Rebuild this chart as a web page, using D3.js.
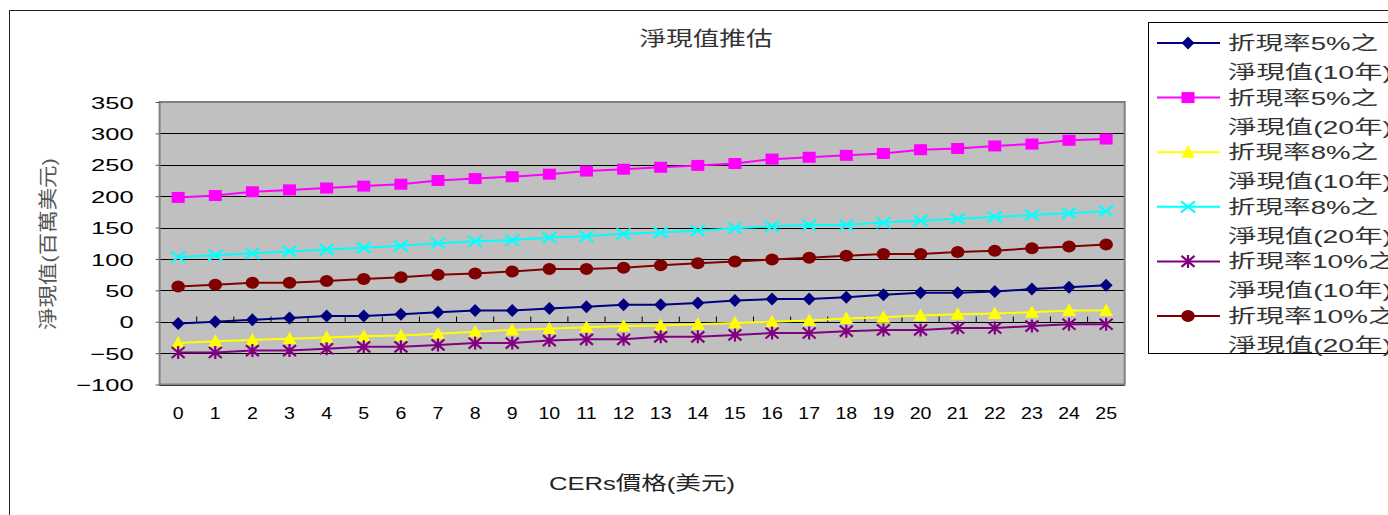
<!DOCTYPE html>
<html><head><meta charset="utf-8">
<script src="https://cdn.jsdelivr.net/npm/d3@7"></script>
<style>
html,body{margin:0;padding:0;background:#fff;}
svg text{font-family:"Liberation Sans","Noto Sans CJK TC",sans-serif;fill:#000;}
</style></head>
<body>
<svg id="chart" width="1388" height="515"></svg>
<script>
const categories = ["0","1","2","3","4","5","6","7","8","9","10","11","12","13","14","15","16","17","18","19","20","21","22","23","24","25"];
const npv5_10  = [-3,0,3,6,9,9,12,15,18,18,21,24,27,27,30,34,36,36,39,43,46,46,48,52,55,58];
const npv5_20  = [198,201,207,210,213,216,219,225,228,231,235,240,243,246,249,252,259,262,265,268,274,276,280,283,289,291];
const npv8_10  = [-34,-31,-29,-27,-25,-23,-22,-19,-16,-13,-11,-9,-7,-6,-4,-2,0,2,5,7,10,12,13,15,18,18];
const npv8_20  = [103,106,109,112,115,118,121,125,128,130,134,136,140,142,145,149,152,154,154,158,161,164,167,170,173,176];
const npv10_10 = [-49,-49,-46,-46,-43,-40,-40,-37,-34,-34,-30,-28,-28,-24,-24,-21,-18,-18,-15,-13,-13,-10,-10,-7,-4,-4];
const npv10_20 = [56,59,62,62,65,68,71,75,77,80,84,84,86,90,93,96,99,102,105,108,108,111,113,117,120,123];
const yTicks = [-100,-50,0,50,100,150,200,250,300,350];
const seriesNames = [["折現率5%之","淨現值(10年)"],["折現率5%之","淨現值(20年)"],["折現率8%之","淨現值(10年)"],["折現率8%之","淨現值(20年)"],["折現率10%之","淨現值(10年)"],["折現率10%之","淨現值(20年)"]];
const chartTitle = "淨現值推估";
const xTitle = "CERs價格(美元)";
const yTitle = "淨現值(百萬美元)";

const seriesData = [npv5_10, npv5_20, npv8_10, npv8_20, npv10_10, npv10_20];
const colors = ["#000080","#FF00FF","#FFFF00","#00FFFF","#800080","#800000"];
const shapes = ["diamond","square","triangle","x","star","circle"];

const svg = d3.select("#chart");
const L = 159.6, R = 1124.7, T = 102, B = 384.5;
const x = d3.scaleBand().domain(categories).range([L, R]).padding(0);
const y = d3.scaleLinear().domain([-100, 350]).range([B, T]);

// outer chart border
svg.append("rect").attr("x",9.5).attr("y",10.5).attr("width",1400).attr("height",520)
  .attr("fill","none").attr("stroke","#222").attr("stroke-width",1);

// title
svg.append("text").attr("x",706).attr("y",46).attr("text-anchor","middle")
  .attr("font-size",20).attr("textLength",133).attr("lengthAdjust","spacingAndGlyphs")
  .style("fill","#333").text(chartTitle);

// plot area
svg.append("rect").attr("x",L).attr("y",T).attr("width",R-L).attr("height",B-T)
  .attr("fill","#C0C0C0");
svg.append("g").selectAll("line").data(yTicks).join("line")
  .attr("x1",L).attr("x2",R).attr("y1",d=>Math.round(y(d))+0.5).attr("y2",d=>Math.round(y(d))+0.5)
  .attr("stroke","#000").attr("stroke-width",1);
svg.append("rect").attr("x",L).attr("y",T).attr("width",R-L).attr("height",B-T)
  .attr("fill","none").attr("stroke","#808080").attr("stroke-width",2);

// y axis
const sx = 1.5;
const yAxis = svg.append("g").attr("transform",`translate(${L},0)`)
  .call(d3.axisLeft(y).tickValues(yTicks).tickSize(4).tickPadding(22));
yAxis.select(".domain").remove();
yAxis.selectAll(".tick line").attr("stroke","#555");
yAxis.selectAll("text").attr("font-size",17)
  .attr("x",-26/sx).attr("transform",`scale(${sx},1)`).attr("dy","0.36em")
  .style("font-family","Liberation Sans");

// x axis ticks on zero line
const y0 = Math.round(y(0))+0.5;
const bounds = categories.map(c=>x(c)).concat([R]);
svg.append("g").selectAll("line").data(bounds.slice(1,-1)).join("line")
  .attr("x1",d=>d).attr("x2",d=>d).attr("y1",y0-6).attr("y2",y0)
  .attr("stroke","#000").attr("stroke-width",1);

// x labels
const xAxis = svg.append("g").attr("transform",`translate(0,${B})`)
  .call(d3.axisBottom(x).tickSize(0).tickPadding(22));
xAxis.select(".domain").remove();
const sxx = 1.15;
xAxis.selectAll("text").attr("font-size",17).style("font-family","Liberation Sans")
  .attr("transform",`scale(${sxx},1)`);

// axis titles
svg.append("text").attr("x",642).attr("y",490).attr("text-anchor","middle")
  .attr("font-size",19).attr("textLength",186).attr("lengthAdjust","spacingAndGlyphs")
  .style("fill","#222").text(xTitle);
svg.append("text").attr("transform","translate(55,244) rotate(-90)").attr("text-anchor","middle")
  .attr("font-size",19).attr("textLength",172).attr("lengthAdjust","spacingAndGlyphs")
  .style("fill","#555").text(yTitle);

// symbols
function drawMarker(g, shape, color, cx, cy){
  const s = 6.5;
  if(shape==="diamond"){
    g.append("path").attr("d",`M${cx},${cy-s}L${cx+s},${cy}L${cx},${cy+s}L${cx-s},${cy}Z`).attr("fill",color);
  } else if(shape==="square"){
    g.append("rect").attr("x",cx-6.5).attr("y",cy-5.5).attr("width",13).attr("height",11).attr("fill",color);
  } else if(shape==="triangle"){
    g.append("path").attr("d",`M${cx},${cy-7}L${cx+7},${cy+5.5}L${cx-7},${cy+5.5}Z`).attr("fill",color);
  } else if(shape==="x"){
    g.append("path").attr("d",`M${cx-7},${cy-5.5}L${cx+7},${cy+5.5}M${cx-7},${cy+5.5}L${cx+7},${cy-5.5}`)
      .attr("stroke",color).attr("stroke-width",2.2).attr("fill","none");
  } else if(shape==="star"){
    g.append("path").attr("d",`M${cx-6.5},${cy-5.5}L${cx+6.5},${cy+5.5}M${cx-6.5},${cy+5.5}L${cx+6.5},${cy-5.5}M${cx},${cy-6.5}L${cx},${cy+6.5}`)
      .attr("stroke",color).attr("stroke-width",2.2).attr("fill","none");
  } else if(shape==="circle"){
    g.append("ellipse").attr("cx",cx).attr("cy",cy).attr("rx",6.8).attr("ry",6).attr("fill",color);
  }
}

const line = d3.line().x((d,i)=>x(categories[i])+x.bandwidth()/2).y(d=>y(d));
seriesData.forEach((vals,si)=>{
  const g = svg.append("g");
  g.append("path").datum(vals).attr("d",line).attr("fill","none")
    .attr("stroke",colors[si]).attr("stroke-width",2);
  vals.forEach((v,i)=>drawMarker(g, shapes[si], colors[si], x(categories[i])+x.bandwidth()/2, y(v)));
});

// legend
const lg = svg.append("g");
lg.append("rect").attr("x",1148.5).attr("y",22.5).attr("width",260).attr("height",331)
  .attr("fill","#fff").attr("stroke","#000").attr("stroke-width",1);
seriesNames.forEach((nm,i)=>{
  const cy = 43 + 54.6*i;
  lg.append("line").attr("x1",1157).attr("x2",1220).attr("y1",cy).attr("y2",cy)
    .attr("stroke",colors[i]).attr("stroke-width",2);
  drawMarker(lg, shapes[i], colors[i], 1188, cy);
  lg.append("text").attr("x",1228).attr("y",cy+7).attr("font-size",19)
    .attr("textLength", nm[0].length>6 ? 168 : 150).attr("lengthAdjust","spacingAndGlyphs")
    .style("fill","#333").text(nm[0]);
  lg.append("text").attr("x",1228).attr("y",cy+36).attr("font-size",19)
    .attr("textLength",164).attr("lengthAdjust","spacingAndGlyphs")
    .style("fill","#333").text(nm[1]);
});
</script>
</body></html>
